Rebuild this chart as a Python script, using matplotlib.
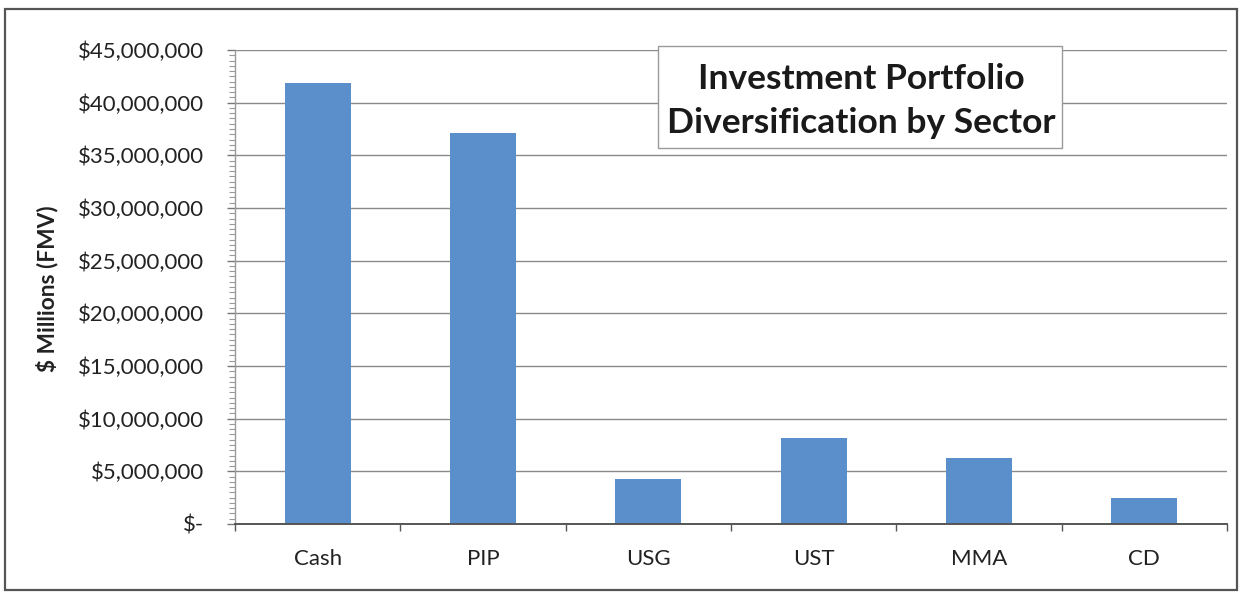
import matplotlib
matplotlib.use("Agg")
import matplotlib.pyplot as plt
from matplotlib.patches import Rectangle
from matplotlib.ticker import FuncFormatter, MultipleLocator

categories = ["Cash", "PIP", "USG", "UST", "MMA", "CD"]
values = [41_900_000, 37_150_000, 4_300_000, 8_150_000, 6_250_000, 2_450_000]
title_lines = ["Investment Portfolio", "Diversification by Sector"]
y_label = "$ Millions (FMV)"

plt.rcParams["font.family"] = ["Lato", "DejaVu Sans"]

fig = plt.figure(figsize=(12.41, 5.93), dpi=100)
W, H = 1241, 593

def fx(px):
    return px / W

def fy(py):
    return 1 - py / H

# outer chart frame
fig.patches.append(Rectangle((fx(5), fy(590)), fx(1237) - fx(5), fy(9) - fy(590),
                             transform=fig.transFigure, fill=False,
                             edgecolor="#555555", linewidth=1.6))

ax = fig.add_axes([fx(235), fy(524), fx(1227) - fx(235), fy(50) - fy(524)])

x = range(len(categories))
ax.bar(x, values, width=0.4, color="#5B8FCB", zorder=2)

ax.set_xlim(-0.5, len(categories) - 0.5)
ax.set_ylim(0, 45_000_000)
ax.yaxis.set_major_locator(MultipleLocator(5_000_000))
ax.yaxis.set_minor_locator(MultipleLocator(500_000))

def money(v, pos):
    if v == 0:
        return "$-"
    return "${:,.0f}".format(v)

ax.yaxis.set_major_formatter(FuncFormatter(money))
ax.grid(axis="y", which="major", color="#8a8a8a", linewidth=1.0, zorder=0)

ax.set_xticks([i - 0.5 for i in range(len(categories) + 1)], minor=False)
ax.set_xticklabels([])
ax.set_xticks(list(x), minor=True)
ax.set_xticklabels(categories, minor=True)
ax.tick_params(axis="x", which="major", length=5, width=1, color="#555555", direction="out")
ax.tick_params(axis="x", which="minor", length=0, labelsize=16, pad=18, labelcolor="#222222")
ax.tick_params(axis="y", which="major", length=6, width=1, color="#777777",
               labelsize=16, pad=16, labelcolor="#222222")
ax.tick_params(axis="y", which="minor", length=4, width=0.8, color="#999999")

for side in ["top", "right"]:
    ax.spines[side].set_visible(False)
ax.spines["left"].set_color("#999999")
ax.spines["bottom"].set_color("#555555")
ax.spines["bottom"].set_linewidth(1.4)
ax.spines["left"].set_linewidth(1.0)

fig.text(fx(47), fy(289), y_label, rotation=90, ha="center", va="center",
         fontsize=16.3, fontweight="bold", color="#222222")

# title box
fig.patches.append(Rectangle((fx(658), fy(148)), fx(1062) - fx(658), fy(46) - fy(148),
                             transform=fig.transFigure, facecolor="white",
                             edgecolor="#9a9a9a", linewidth=1.0, zorder=5))
fig.text(fx(861), fy(101), "\n".join(title_lines), ha="center", va="center",
         fontsize=25.5, fontweight="bold", color="#1a1a1a", linespacing=1.45, zorder=6)

fig.savefig("out.png", dpi=100)
